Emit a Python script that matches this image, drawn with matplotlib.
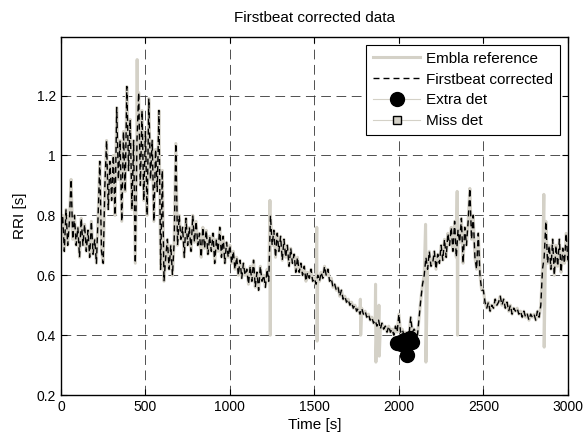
import numpy as np
import matplotlib
matplotlib.use("Agg")
import matplotlib.pyplot as plt
from matplotlib.legend_handler import HandlerLine2D

plt.rcParams['font.family'] = ['Liberation Sans', 'DejaVu Sans']
plt.rcParams['font.size'] = 10
plt.rcParams['lines.scale_dashes'] = False

# === DATA ===
# Firstbeat corrected RRI, sampled every 10 s from 0 to 3000 s
t_step = 10
fb_rri = [
    0.74, 0.80, 0.68, 0.82, 0.70, 0.78, 0.92, 0.72, 0.80, 0.70,
    0.76, 0.66, 0.79, 0.70, 0.77, 0.68, 0.75, 0.66, 0.78, 0.67,
    0.72, 0.64, 0.80, 0.98, 0.68, 0.64, 0.90, 1.05, 0.82, 0.98,
    0.85, 1.00, 0.80, 1.16, 0.92, 1.05, 0.78, 1.08, 0.88, 1.23,
    0.95, 1.12, 0.82, 1.05, 0.64, 1.05, 1.21, 0.90, 1.15, 0.85,
    1.08, 0.80, 1.19, 0.92, 1.05, 0.78, 1.02, 0.88, 1.15, 0.62,
    0.95, 0.58, 0.66, 0.72, 0.62, 0.70, 0.60, 0.71, 1.04, 0.70,
    0.80, 0.72, 0.76, 0.66, 0.79, 0.70, 0.76, 0.68, 0.80, 0.71,
    0.78, 0.70, 0.74, 0.66, 0.76, 0.69, 0.75, 0.67, 0.73, 0.68,
    0.74, 0.64, 0.72, 0.68, 0.76, 0.66, 0.73, 0.64, 0.71, 0.66,
    0.70, 0.64, 0.68, 0.62, 0.66, 0.60, 0.65, 0.59, 0.64, 0.60,
    0.62, 0.57, 0.63, 0.58, 0.65, 0.56, 0.61, 0.55, 0.63, 0.58,
    0.60, 0.56, 0.62, 0.58, 0.80, 0.70, 0.75, 0.66, 0.74, 0.68,
    0.73, 0.65, 0.72, 0.66, 0.70, 0.63, 0.69, 0.64, 0.67, 0.61,
    0.66, 0.61, 0.64, 0.60, 0.63, 0.58, 0.61, 0.59, 0.62, 0.58,
    0.59, 0.57, 0.60, 0.58, 0.61, 0.59, 0.63, 0.60, 0.62, 0.58,
    0.59, 0.56, 0.57, 0.55, 0.56, 0.53, 0.55, 0.52, 0.53, 0.51,
    0.52, 0.50, 0.51, 0.49, 0.50, 0.48, 0.49, 0.47, 0.49, 0.47,
    0.48, 0.46, 0.47, 0.45, 0.46, 0.44, 0.45, 0.43, 0.45, 0.42,
    0.44, 0.42, 0.43, 0.41, 0.43, 0.41, 0.42, 0.40, 0.43, 0.41,
    0.47, 0.41, 0.42, 0.40, 0.41, 0.39, 0.40, 0.46, 0.41, 0.42,
    0.41, 0.40, 0.46, 0.52, 0.57, 0.60, 0.66, 0.62, 0.68, 0.63,
    0.64, 0.68, 0.62, 0.67, 0.64, 0.70, 0.65, 0.72, 0.66, 0.74,
    0.70, 0.76, 0.68, 0.78, 0.66, 0.75, 0.71, 0.79, 0.64, 0.76,
    0.70, 0.78, 0.89, 0.72, 0.80, 0.66, 0.62, 0.74, 0.60, 0.55,
    0.55, 0.51, 0.49, 0.51, 0.48, 0.50, 0.49, 0.52, 0.50, 0.51,
    0.53, 0.50, 0.52, 0.49, 0.51, 0.48, 0.50, 0.47, 0.49, 0.48,
    0.49, 0.47, 0.48, 0.46, 0.48, 0.46, 0.47, 0.45, 0.47, 0.46,
    0.47, 0.45, 0.48, 0.46, 0.50, 0.62, 0.66, 0.78, 0.64, 0.70,
    0.62, 0.72, 0.60, 0.70, 0.63, 0.72, 0.61, 0.69, 0.64, 0.74,
    0.65,
]
fb_time = np.arange(len(fb_rri)) * t_step

# Embla reference: same beats plus the detection spikes not in Firstbeat
spike_time = [451, 1237, 1514, 1772, 1862, 1882, 2158, 2345, 2858]
spike_hi = [1.32, 0.85, 0.76, 0.52, 0.57, 0.50, 0.77, 0.88, 0.87]
spike_lo = [1.00, 0.40, 0.38, 0.40, 0.31, 0.33, 0.31, 0.40, 0.36]

# Extra / missed detections
extra_time = [1990, 2010, 2030, 2050, 2065, 2080]
extra_rri = [0.375, 0.370, 0.385, 0.335, 0.390, 0.378]
miss_time = []
miss_rri = []

# build Embla series
emb_t = np.concatenate([fb_time, spike_time, np.array(spike_time) + 2])
emb_v = np.concatenate([fb_rri, spike_hi, spike_lo])
order = np.argsort(emb_t, kind="stable")
emb_t, emb_v = emb_t[order], emb_v[order]

gray = (0.83, 0.82, 0.78)


class RightMarker(HandlerLine2D):
    # marker at the right end of the legend line, like the original
    def get_xdata(self, legend, xdescent, ydescent, width, height, fontsize):
        return [-xdescent, -xdescent + width], [-xdescent + width - 4]


# === PLOT ===
fig = plt.figure(figsize=(5.86, 4.37), dpi=100)
ax = fig.add_axes([0.104, 0.096, 0.865, 0.819])

ax.plot(emb_t, emb_v, color=gray, lw=2.2, label="Embla reference", zorder=2)
ax.plot(fb_time, fb_rri, color="k", lw=1.0, ls=(0, (4.3, 2.9)),
        label="Firstbeat corrected", zorder=3)
ax.plot(extra_time, extra_rri, color=gray, lw=0.8, marker="o", ms=10,
        mfc="k", mec="k", label="Extra det", zorder=4)
ax.plot(miss_time, miss_rri, color=gray, lw=0.8, marker="s", ms=6,
        mfc=gray, mec="k", label="Miss det", zorder=4)

ax.set_xlim(0, 3000)
ax.set_ylim(0.2, 1.395)
ax.set_xticks([0, 500, 1000, 1500, 2000, 2500, 3000])
ax.set_yticks([0.2, 0.4, 0.6, 0.8, 1.0, 1.2])
ax.set_yticklabels(["0.2", "0.4", "0.6", "0.8", "1", "1.2"])
ax.tick_params(direction="in", length=4, top=True, right=True, width=0.8)
ax.grid(True, color="0.2", lw=0.6, ls=(0, (7, 4)))
ax.set_axisbelow(True)
for s in ax.spines.values():
    s.set_linewidth(1.0)

ax.set_title("Firstbeat corrected data", fontsize=11, pad=11)
ax.set_xlabel("Time [s]", fontsize=11, labelpad=3)
ax.set_ylabel("RRI [s]", fontsize=11, labelpad=7)

leg = ax.legend(loc="upper right", fancybox=False, framealpha=1,
                edgecolor="k", fontsize=11, handlelength=3.1,
                handletextpad=0.4, labelspacing=0.45, borderaxespad=0.5,
                borderpad=0.45, numpoints=1,
                handler_map={plt.Line2D: RightMarker()})
leg.get_frame().set_linewidth(0.8)

fig.savefig("out.png", dpi=100)
